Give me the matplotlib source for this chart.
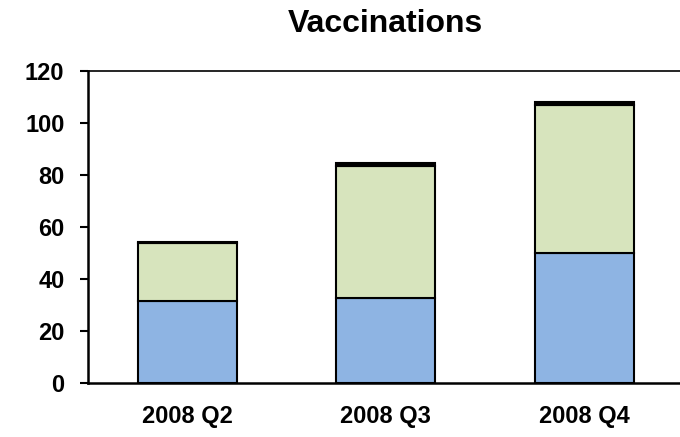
import matplotlib
matplotlib.use("Agg")
import matplotlib.pyplot as plt
import numpy as np

categories = ["2008 Q2", "2008 Q3", "2008 Q4"]
series_blue = [31.4, 32.6, 49.8]
series_green = [22.2, 50.9, 57.1]
series_black = [0.7, 1.0, 1.0]
yticks = [0, 20, 40, 60, 80, 100, 120]

plt.rcParams['font.family'] = ['Liberation Sans', 'DejaVu Sans']
plt.rcParams['font.weight'] = 'bold'

fig = plt.figure(figsize=(6.8, 4.37), dpi=100)
W, H = 680, 437
left, right, top, bottom = 88, 683.5, 70.5, 383
ax = fig.add_axes([left / W, (H - bottom) / H, (right - left) / W, (bottom - top) / H])

x = np.arange(len(categories))
w = 0.5
ax.bar(x, series_blue, w, color="#8EB4E3", edgecolor="black", linewidth=1.5, zorder=3)
ax.bar(x, series_green, w, bottom=series_blue, color="#D7E4BD", edgecolor="black", linewidth=1.5, zorder=3)
b2 = np.array(series_blue) + np.array(series_green)
ax.bar(x, series_black, w, bottom=b2, color="black", edgecolor="black", linewidth=1.5, zorder=3)

ax.set_xlim(-0.5, 2.5)
ax.set_ylim(0, 120)
ax.set_yticks(yticks)
ax.set_xticks(x)
ax.set_xticklabels(categories)
ax.tick_params(axis='x', length=0, pad=16, labelsize=17)
ax.tick_params(axis='y', length=6, width=1.5, pad=11, labelsize=17, direction='out')
for lbl in ax.get_xticklabels() + ax.get_yticklabels():
    lbl.set_fontweight('bold')

ax.spines['right'].set_visible(False)
ax.spines['left'].set_linewidth(1.8)
ax.spines['bottom'].set_linewidth(1.8)
ax.spines['top'].set_linewidth(1.2)

fig.text(385 / W, 1 - 24 / H, "Vaccinations", ha='center', va='center', fontsize=23, fontweight='bold')

fig.savefig("out.png", dpi=100)
